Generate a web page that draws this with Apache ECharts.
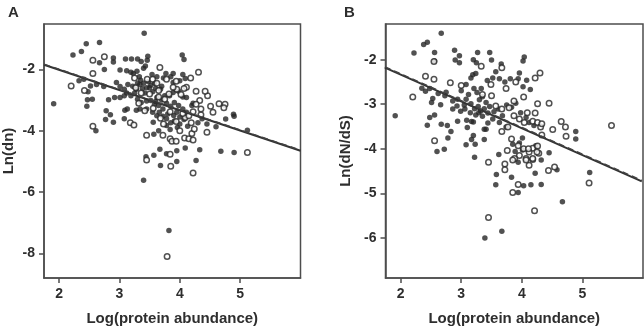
<!DOCTYPE html>
<html>
<head>
<meta charset="utf-8">
<script src="https://cdn.jsdelivr.net/npm/echarts@6.0.0/dist/echarts.min.js"></script>
<style>
html,body{margin:0;padding:0;background:#fff;}
#c{width:644px;height:331px;}
</style>
</head>
<body>
<div id="c"></div>
<script>
// ---- Data ----
var xTicks = [2, 3, 4, 5];
var yTicksA = [-2, -4, -6, -8];
var yTicksB = [-2, -3, -4, -5, -6];

var panelTitles = ['A', 'B'];
var xTitle = 'Log(protein abundance)';
var yTitleA = 'Ln(dn)';
var yTitleB = 'Ln(dN/dS)';

var aFilled = [
[3.41,-0.82],[2.45,-1.16],[2.67,-1.12],[2.37,-1.42],[2.23,-1.53],[1.91,-3.12],[2.90,-1.63],[2.90,-1.76],[2.67,-1.78],[2.75,-2.00],
[3.10,-1.66],[3.20,-1.66],[3.30,-1.66],[3.36,-1.74],[3.47,-1.57],[3.46,-1.70],[4.04,-1.53],[4.07,-1.68],[3.89,-2.13],[4.05,-2.17],
[2.33,-2.37],[2.41,-2.32],[2.52,-2.54],[2.62,-2.49],[2.48,-2.73],[2.55,-2.97],[2.47,-2.99],[2.46,-3.20],[2.82,-2.99],[2.74,-2.56],
[2.78,-3.35],[2.85,-3.48],[2.77,-3.63],[2.90,-3.72],[2.61,-4.00],[3.08,-3.61],[3.09,-3.33],[3.13,-3.29],[3.57,-4.11],[3.65,-4.00],
[4.33,-4.62],[4.68,-4.67],[4.90,-4.71],[5.12,-3.98],[4.89,-3.46],[4.90,-3.53],[4.76,-3.62],[4.60,-3.87],[4.45,-3.78],[3.44,-4.85],
[3.57,-4.80],[3.67,-4.60],[3.78,-4.75],[3.95,-4.65],[4.09,-4.56],[3.68,-5.13],[3.95,-5.00],[4.27,-4.97],[3.40,-5.61],[3.82,-7.25],
[3.01,-2.02],[3.12,-2.04],[3.19,-2.09],[3.23,-2.13],[3.29,-2.06],[3.33,-2.24],[3.40,-1.96],[3.43,-1.89],[3.54,-2.17],[3.62,-2.24],
[3.73,-2.28],[3.77,-2.13],[3.85,-2.24],[4.00,-2.37],[4.09,-2.30],[3.89,-2.43],
[2.95,-2.43],[3.01,-2.56],[3.08,-2.65],[3.12,-2.77],[3.19,-2.86],[3.28,-2.65],[3.34,-2.49],[3.42,-2.77],[3.50,-2.60],[3.55,-2.73],
[3.62,-2.92],[3.68,-2.65],[3.75,-2.86],[3.83,-2.86],[3.89,-2.75],[3.98,-2.71],[4.05,-2.90],[4.11,-2.92],[3.14,-2.49],[2.92,-2.92],
[3.01,-2.92],[3.08,-2.86],
[3.30,-2.97],[3.36,-3.08],[3.45,-3.03],[3.52,-3.01],[3.58,-3.14],[3.65,-3.18],[3.72,-3.29],[3.78,-3.10],[3.85,-3.20],[3.91,-3.08],
[3.98,-3.18],[4.05,-3.29],[4.11,-3.40],[4.20,-3.18],[4.22,-3.10],[3.28,-3.33],[3.34,-3.29],[3.45,-3.29],
[3.72,-3.53],[3.78,-3.61],[3.85,-3.74],[3.91,-3.68],[4.00,-3.78],[4.07,-3.63],[4.13,-3.85],[3.78,-3.83],[3.84,-3.96],[3.96,-3.89],
[4.30,-3.74],[3.56,-3.72],[3.62,-3.51],[4.37,-3.61],
[3.35,-2.35],[3.40,-2.45],[3.48,-2.40],[3.52,-2.52],[3.58,-2.45],[3.45,-2.60],[3.38,-2.62],[3.30,-2.45],[3.70,-2.55],[3.60,-2.62],
[3.70,-3.00],[3.60,-3.05],[3.55,-3.40],[3.66,-3.40],[3.80,-3.45],[3.90,-3.50],[3.95,-3.40],[4.00,-3.55],[3.22,-2.55],[3.25,-2.78]
];
var aOpen = [
[2.20,-2.54],[2.56,-1.70],[2.75,-1.59],[2.56,-2.13],[3.67,-1.94],[4.31,-2.09],[4.18,-2.28],[2.42,-2.69],[2.56,-3.85],[3.18,-3.74],
[3.24,-3.81],[3.45,-4.15],[3.72,-4.15],[3.84,-4.26],[3.87,-4.34],[3.94,-4.34],[4.08,-4.24],[4.15,-4.26],[4.22,-4.30],[4.20,-4.09],
[5.12,-4.71],[4.65,-3.12],[4.75,-3.14],[4.73,-3.25],[4.46,-2.86],[4.51,-3.20],[4.55,-3.40],[4.33,-3.01],[4.27,-3.14],[4.35,-3.48],
[4.42,-2.71],[4.11,-2.58],[3.45,-4.95],[3.84,-4.77],[3.85,-5.16],[4.22,-5.38],[3.79,-8.10],[4.45,-4.05],
[3.25,-2.28],[3.46,-2.32],[3.55,-2.32],[3.62,-2.45],[3.78,-2.32],[3.94,-2.39],
[3.27,-2.60],[3.50,-2.80],[3.65,-2.69],[3.82,-2.80],[3.95,-2.65],[4.07,-2.62],[4.27,-2.71],[3.36,-2.77],[3.89,-2.58],[4.02,-2.82],
[3.32,-3.10],[3.42,-3.35],[3.56,-3.27],[3.75,-2.97],[3.84,-3.38],[4.09,-3.57],[4.15,-3.51],[4.22,-3.38],[4.35,-3.29],[3.65,-2.90],
[3.68,-3.59],[3.94,-3.70],[4.05,-3.44],[4.19,-3.74],[4.00,-4.00],[4.24,-3.94],[3.73,-3.78]
];
var bFilled = [
[2.67,-1.41],[2.44,-1.61],[2.38,-1.66],[2.22,-1.85],[2.56,-1.84],[2.56,-2.03],[2.89,-1.79],[2.97,-1.91],[2.90,-2.01],[2.97,-2.07],
[3.27,-1.84],[3.47,-1.84],[3.50,-2.01],[3.20,-2.00],[3.25,-2.07],[3.66,-2.10],[4.04,-1.94],[4.02,-2.03],
[2.35,-2.64],[2.41,-2.71],[2.48,-2.65],[2.62,-2.76],[2.73,-2.81],[2.75,-2.73],[2.53,-2.87],[2.66,-3.01],[2.51,-2.96],[1.91,-3.26],
[2.48,-3.30],[2.56,-3.24],[2.44,-3.47],[2.67,-3.45],[2.77,-3.48],[2.60,-4.06],[2.72,-4.01],[2.78,-3.76],[3.08,-3.91],[3.22,-4.19],
[3.17,-3.79],[3.20,-3.70],
[2.86,-3.11],[2.93,-3.04],[2.99,-3.16],[3.06,-3.11],[3.15,-3.19],[2.86,-2.93],[2.94,-2.89],[3.09,-3.36],[3.17,-3.39],[3.24,-3.24],
[3.08,-2.56],[3.16,-2.41],[3.19,-2.34],[3.24,-2.31],[3.21,-2.65],[3.26,-2.74],[3.33,-2.65],[3.35,-2.83],[3.43,-2.47],[3.52,-2.41],
[3.57,-2.27],[3.63,-2.43],[3.72,-2.50],[3.81,-2.43],[3.96,-2.30],[3.94,-2.43],[4.02,-2.61],[4.14,-2.67],[4.08,-2.46],
[3.08,-2.89],[3.16,-2.99],[3.22,-3.10],[3.29,-3.19],[3.35,-3.27],[3.41,-2.96],[3.47,-3.05],[3.54,-3.17],[3.61,-3.11],[3.68,-3.26],
[3.75,-3.02],[3.83,-3.07],[3.90,-2.98],[3.98,-3.19],[4.07,-3.30],[4.12,-3.41],[4.20,-3.48],[3.52,-3.33],[3.63,-3.41],[3.74,-3.51],
[3.38,-3.56],[3.44,-3.42],
[3.85,-3.90],[3.96,-3.87],[4.23,-3.93],[4.45,-4.09],[4.89,-3.61],[4.89,-3.78],[3.62,-4.13],[4.32,-4.25],
[3.58,-4.58],[3.57,-4.81],[3.83,-4.64],[3.94,-4.98],[4.03,-4.83],[4.15,-4.81],[4.32,-4.80],[4.22,-4.55],[4.58,-4.47],[5.12,-4.53],
[4.67,-5.19],[3.67,-5.85],[3.39,-6.00],[3.94,-4.30],
[2.83,-3.61],[2.94,-3.38],[3.10,-3.52],[3.20,-3.40],[3.23,-3.90],[3.38,-3.79],[3.41,-3.56],
[4.01,-3.76],[3.89,-4.06],[4.01,-4.03],
[3.28,-3.05],[3.32,-3.15],[3.38,-3.10],[3.44,-3.20],[3.30,-2.90],[3.12,-2.78],[3.05,-3.02],[3.00,-2.70]
];
var bOpen = [
[2.55,-2.04],[3.33,-2.15],[3.67,-2.18],[2.41,-2.37],[2.55,-2.44],[2.82,-2.52],[3.00,-2.58],[3.49,-2.56],[3.74,-2.65],[3.90,-2.50],
[4.22,-2.41],[4.30,-2.30],[3.35,-2.78],[3.50,-2.81],[2.20,-2.84],[4.03,-2.84],[3.87,-2.93],[4.26,-2.99],[4.45,-2.98],[4.09,-3.19],
[4.22,-3.20],[2.56,-3.82],[3.45,-4.30],
[3.57,-3.04],[3.67,-3.11],[3.79,-3.08],[3.87,-3.26],[3.96,-3.33],[4.04,-3.41],[4.18,-3.38],[4.26,-3.41],[4.31,-3.51],[4.33,-3.69],
[4.51,-3.57],[4.65,-3.39],[4.72,-3.51],[4.73,-3.72],[5.48,-3.48],[3.67,-3.61],[3.77,-3.51],[3.83,-3.78],[3.94,-3.93],[4.03,-4.00],
[4.18,-3.99],[4.26,-3.94],[4.12,-4.07],[3.96,-4.15],[3.88,-4.22],[4.07,-4.22],[4.28,-4.10],[3.76,-4.04],
[3.72,-4.34],[3.72,-4.47],[3.85,-4.98],[3.94,-4.80],[4.12,-4.37],[4.44,-4.49],[4.54,-4.41],[5.11,-4.77],[4.21,-5.39],[3.45,-5.54],
[3.85,-4.25],[4.07,-4.25],[4.18,-4.24],[4.33,-3.44],[4.25,-4.07],[4.11,-4.00],[4.18,-4.22]
];

// regression lines (solid fit and dashed fit), endpoints
var fitA = [[1.75,-1.85],[6.0,-4.65]];
var fitAdash = [[1.75,-1.83],[6.0,-4.63]];
var fitB = [[1.74,-2.18],[5.98,-4.73]];
var fitBdash = [[1.74,-2.16],[5.98,-4.71]];

// ---- Chart ----
var FONT = '"Liberation Sans", Arial, sans-serif';
var INK = '#262626';
var FRAME = '#4d4d4d';
var TXT = '#2e2e2e';

function xAxisCfg(gi) {
  return {
    type: 'value', gridIndex: gi, min: 1.75, max: 6.0,
    name: xTitle, nameLocation: 'middle', nameGap: 33,
    nameTextStyle: {fontFamily: FONT, fontWeight: 'bold', fontSize: 15, color: TXT},
    axisLine: {show: true, lineStyle: {color: FRAME, width: 1.5}},
    axisTick: {show: true, length: 5, customValues: xTicks, lineStyle: {color: FRAME, width: 1.5}},
    axisLabel: {customValues: xTicks, margin: 9, fontFamily: FONT, fontWeight: 'bold', fontSize: 14, color: TXT},
    splitLine: {show: false}
  };
}
function yAxisCfg(gi, mn, mx, ticks, title, gap) {
  return {
    type: 'value', gridIndex: gi, min: mn, max: mx,
    name: title, nameLocation: 'middle', nameGap: gap, nameRotate: 90,
    nameTextStyle: {fontFamily: FONT, fontWeight: 'bold', fontSize: 15, color: TXT},
    axisLine: {show: true, lineStyle: {color: FRAME, width: 1.5}},
    axisTick: {show: true, length: 5, customValues: ticks, lineStyle: {color: FRAME, width: 1.5}},
    axisLabel: {customValues: ticks, margin: 9, fontFamily: FONT, fontWeight: 'bold', fontSize: 14, color: TXT},
    splitLine: {show: false}
  };
}
function filled(data, i) {
  return {type: 'scatter', xAxisIndex: i, yAxisIndex: i, data: data, symbol: 'circle', symbolSize: 5.5,
    itemStyle: {color: INK}, z: 2};
}
function open(data, i) {
  return {type: 'scatter', xAxisIndex: i, yAxisIndex: i, data: data, symbol: 'circle', symbolSize: 5.5,
    itemStyle: {color: '#fff', borderColor: INK, borderWidth: 1.5}, z: 3};
}
function fit(data, i, dashed) {
  return {type: 'line', xAxisIndex: i, yAxisIndex: i, data: data, showSymbol: false, symbol: 'none', z: 4,
    lineStyle: dashed ? {color: '#444', width: 1.4, type: [6, 4]} : {color: '#333', width: 2}};
}

var chart = echarts.init(document.getElementById('c'), null, {renderer: 'canvas'});
chart.setOption({
  animation: false,
  backgroundColor: '#fff',
  textStyle: {fontFamily: FONT},
  title: [
    {text: panelTitles[0], left: 3, top: 0, textStyle: {fontFamily: FONT, fontWeight: 'bold', fontSize: 15, color: TXT}},
    {text: panelTitles[1], left: 339, top: 0, textStyle: {fontFamily: FONT, fontWeight: 'bold', fontSize: 15, color: TXT}}
  ],
  grid: [
    {left: 43, top: 24, width: 257.5, height: 257, show: true, borderColor: FRAME, borderWidth: 1.5, containLabel: false},
    {left: 385.5, top: 24, width: 257.5, height: 257, show: true, borderColor: FRAME, borderWidth: 1.5, containLabel: false}
  ],
  xAxis: [xAxisCfg(0), xAxisCfg(1)],
  yAxis: [
    yAxisCfg(0, -8.8, -0.52, yTicksA, yTitleA, 28),
    yAxisCfg(1, -6.9, -1.2, yTicksB, yTitleB, 32)
  ],
  series: [
    filled(aFilled, 0), open(aOpen, 0), fit(fitA, 0, false), fit(fitAdash, 0, true),
    filled(bFilled, 1), open(bOpen, 1), fit(fitB, 1, false), fit(fitBdash, 1, true)
  ]
});
</script>
</body>
</html>
